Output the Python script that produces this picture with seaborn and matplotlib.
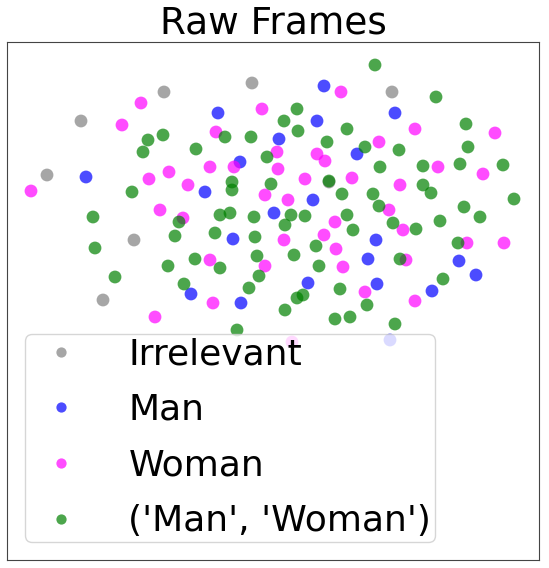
import pandas as pd
import seaborn as sns
import matplotlib.pyplot as plt

# 2d embedding of raw frames, one list per label
irrelevant_x = [-10.9, -19.2, -22.6, -13.9, -17.0, -2.1, 11.9, 5.6]
irrelevant_y = [20.8, 17.9, 12.5, 6.0, 0.0, 21.7, 20.8, 11.8]

man_x = [-18.7, 5.1, -5.5, 4.4, 0.6, 8.4, -3.3, -6.8, 4.0, 0.1, -4.0, -8.2, 3.5, -3.2,
         12.2, 10.3, 9.5, 18.6, 20.3, 10.4, 15.9, 11.7]
man_y = [12.3, 21.4, 18.7, 17.9, 16.1, 14.6, 13.8, 10.8, 10.0, 8.7, 6.1, 0.6, 1.7, -0.3,
         18.7, 6.0, 4.1, 3.9, 2.5, 1.6, 0.9, -4.0]

woman_x = [-13.2, -15.1, -10.4, -12.4, -24.2, -11.3, -11.8, 6.8, -1.1, -5.7, 0.4, 4.4, 5.2,
           -3.9, -6.3, 0.5, 3.2, 7.9, -8.5, -0.8, 1.5, -9.0, 6.2, 5.1, 1.1, 6.3, -6.3, -0.8,
           7.0, -6.0, 1.9, 14.2, 22.2, 10.6, 16.5, 21.0, 12.7, 11.6, 13.0, 19.4, 23.1, 13.3,
           9.2, 14.2]
woman_y = [19.7, 17.5, 12.8, 12.1, 10.9, 9.0, -1.7, 20.8, 19.1, 16.8, 14.8, 14.6, 13.9,
           13.3, 13.3, 13.1, 12.1, 12.2, 11.5, 10.5, 10.0, 8.2, 7.8, 6.5, 6.0, 5.1, 4.0, 3.4,
           3.3, -0.3, -4.2, 17.1, 16.7, 15.8, 13.3, 12.6, 11.5, 9.0, 7.0, 5.7, 5.7, 4.0,
           0.8, -0.1]

both_x = [-11.0, -12.5, -13.0, -14.1, -18.0, -9.4, -9.8, -17.8, -10.5, -15.8, 2.4, 1.1, -4.8,
          -2.2, 2.5, 7.4, 5.4, -7.7, -0.6, 5.6, -4.1, -4.1, -0.2, 6.9, -5.3, -4.3, -1.9, 1.8,
          1.2, 3.2, 7.4, 8.0, -5.8, -1.8, 4.3, -7.8, -5.3, -1.6, 2.1, 4.6, -8.9, -1.4, -2.4,
          6.7, 3.0, 2.4, 1.2, 6.2, 7.7, -3.6, 10.2, 16.3, 19.3, 9.2, 12.6, 19.5, 10.7, 15.0,
          18.7, 23.0, 15.0, 15.8, 10.0, 10.6, 24.1, 19.1, 20.7, 12.0, 16.7, 14.3, 18.5, 12.7,
          17.0, 9.4, 12.2]
both_y = [16.5, 16.0, 14.8, 10.8, 8.3, 7.8, 6.4, 5.2, 3.4, 2.3, 19.1, 17.9, 16.3,
          16.3, 16.9, 17.1, 15.8, 15.1, 14.3, 11.9, 11.8, 11.0, 11.6, 10.6, 8.5, 8.7, 8.3, 8.5,
          7.5, 8.4, 8.5, 7.0, 6.7, 6.3, 5.4, 4.1, 3.2, 4.4, 4.5, 3.4, 1.6, 2.4, 1.2,
          1.1, 0.5, 0.2, -1.0, -1.9, -1.7, -3.0, 23.5, 20.3, 17.6, 15.3, 15.0, 15.3, 13.3, 13.4,
          13.6, 13.5, 11.5, 10.7, 10.6, 9.4, 10.1, 9.3, 8.3, 7.7, 7.9, 7.1, 5.7, 4.1,
          2.1, -0.5, -2.4]

labels = ['Irrelevant', 'Man', 'Woman', "('Man', 'Woman')"]
colors = ['gray', 'blue', 'magenta', 'green']

df = pd.concat([
    pd.DataFrame({'x': irrelevant_x, 'y': irrelevant_y, 'label': labels[0]}),
    pd.DataFrame({'x': man_x, 'y': man_y, 'label': labels[1]}),
    pd.DataFrame({'x': woman_x, 'y': woman_y, 'label': labels[2]}),
    pd.DataFrame({'x': both_x, 'y': both_y, 'label': labels[3]}),
], ignore_index=True)

fig = plt.figure(figsize=(5.49, 5.68), dpi=100)
ax = fig.add_axes([7 / 549, 8 / 568, 532 / 549, 518 / 568])

sns.scatterplot(data=df, x='x', y='y', hue='label', hue_order=labels,
                palette=dict(zip(labels, colors)), s=85, alpha=0.7,
                linewidth=0, ax=ax)

ax.set_xlim(-26.6, 26.6)
ax.set_ylim(-26.0, 25.8)
ax.set_xticks([])
ax.set_yticks([])
ax.set_xlabel('')
ax.set_ylabel('')
for sp in ax.spines.values():
    sp.set_color('#444444')
ax.set_title('Raw Frames', fontsize=27)

handles, labs = ax.get_legend_handles_labels()
ax.legend(handles, labs, loc='lower left', fontsize=26, borderpad=0.1,
          labelspacing=0.6, handlelength=1.78, handletextpad=0.98, markerscale=0.8)

plt.savefig('out.png', dpi=100)
